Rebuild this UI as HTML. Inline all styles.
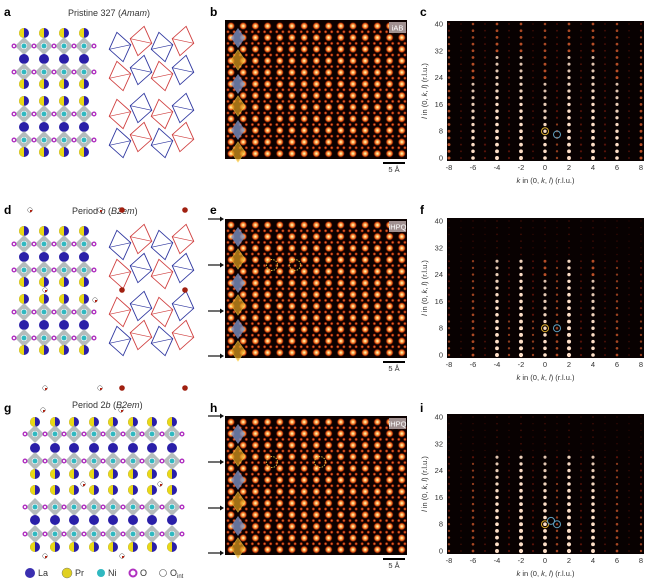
<!DOCTYPE html>
<html><head><meta charset="utf-8"><style>
html,body{margin:0;padding:0;background:#fff;width:654px;height:586px;overflow:hidden}
svg{display:block;font-family:"Liberation Sans",sans-serif}
.pl{font-weight:bold;font-size:12px}
.tt{font-size:9px;fill:#333}
.tk{font-size:7.5px;fill:#333}
</style></head><body>
<svg id="fig" width="654" height="586" viewBox="0 0 654 586">
<defs>
<radialGradient id="spotB"><stop offset="0" stop-color="#fffbe0"/><stop offset="0.3" stop-color="#ffc060"/><stop offset="0.65" stop-color="#e04a10"/><stop offset="1" stop-color="#300" stop-opacity="0"/></radialGradient>
<radialGradient id="spotS"><stop offset="0" stop-color="#f09040"/><stop offset="0.55" stop-color="#b02808"/><stop offset="1" stop-color="#300" stop-opacity="0"/></radialGradient>
</defs>
<g id="labels">
<text class="pl" x="4" y="16">a</text>
<text class="tt" x="68" y="16">Pristine 327 (<tspan font-style="italic">Amam</tspan>)</text>
<text class="pl" x="210" y="16">b</text>
<text class="pl" x="420" y="16">c</text>
<text class="pl" x="4" y="214">d</text>
<text class="tt" x="72" y="214">Period <tspan font-style="italic">b</tspan> (<tspan font-style="italic">B2em</tspan>)</text>
<text class="pl" x="210" y="214">e</text>
<text class="pl" x="420" y="214">f</text>
<text class="pl" x="4" y="412">g</text>
<text class="tt" x="72" y="408">Period 2<tspan font-style="italic">b</tspan> (<tspan font-style="italic">B2em</tspan>)</text>
<text class="pl" x="210" y="412">h</text>
<text class="pl" x="420" y="412">i</text>
</g>
<g id="legend" font-size="9" fill="#333">
<circle cx="30" cy="573" r="5" fill="#3a2fb0"/><text x="38" y="576">La</text>
<circle cx="67" cy="573" r="5" fill="#e0d020" stroke="#776" stroke-width="0.5"/><text x="75" y="576">Pr</text>
<circle cx="101" cy="573" r="4" fill="#30b8c0"/><text x="108" y="576">Ni</text>
<circle cx="133" cy="573" r="3.5" fill="#fff" stroke="#b030c0" stroke-width="2"/><text x="140" y="576">O</text>
<circle cx="163" cy="573" r="3.5" fill="#fff" stroke="#555" stroke-width="0.6"/><text x="170" y="576">O<tspan font-size="6" dy="2">int</tspan></text>
</g>
</svg>
<script>
const NS='http://www.w3.org/2000/svg';
const svg=document.getElementById('fig');
function mk(tag,attrs,parent){const e=document.createElementNS(NS,tag);for(const k in attrs)e.setAttribute(k,attrs[k]);(parent||svg).appendChild(e);return e;}

// ---- diffraction data ----
const kTicks=[-8,-6,-4,-2,0,2,4,6,8];
const lTicks=[0,8,16,24,32,40];
const kCols=[-8,-7,-6,-5,-4,-3,-2,-1,0,1,2,3,4,5,6,7,8];
const intensC=[0.6,0.25,0.8,0.35,0.9,0.35,0.9,0.25,0.8,0.4,0.9,0.35,0.9,0.35,0.8,0.25,0.6];
const intensF=[0.4,0.15,0.55,0.25,0.9,0.4,1.0,0.4,0.8,0.5,1.0,0.35,0.8,0.25,0.5,0.15,0.4];
const intensI=[0.4,0.15,0.5,0.25,0.9,0.35,1.0,0.35,0.9,0.45,1.0,0.35,0.9,0.25,0.5,0.15,0.4];
const lMaxC=40, lMaxF=28, lMaxI=28;

function diffPanel(top,intens,lMax,name,circles){
  const x0=447,x1=644,y0=top-3,y1=top+137;
  const kx=k=>449+(k+8)*(641-449)/16;
  const ly=l=>top+134-l*134/40;
  const g=mk('g',{});
  
  
  mk('rect',{x:x0,y:y0,width:x1-x0,height:y1-y0,fill:'#080101'},g);
  kCols.forEach((k,i)=>{
    for(let l=0;l<=40;l+=2){
      let a=intens[i]*(l>lMax?0.3:1)*(1-l/90);
      const c=mk('circle',{cx:kx(k),cy:ly(l),r:(0.6+a*1.5).toFixed(2),fill:a>0.6?'#ffe0c8':a>0.35?'#e06030':'#902010',opacity:Math.min(1,0.25+a)},g);
      
      
    }
  });
  circles.forEach(cc=>{mk('circle',{cx:kx(cc[0]),cy:ly(cc[1]),r:3.5,fill:'none',stroke:cc[2],'stroke-width':1},g);});
  kTicks.forEach(k=>{const t=mk('text',{x:kx(k),y:y1+9,'text-anchor':'middle',class:'tk'},g);t.textContent=k;
    });
  lTicks.forEach(l=>{const t=mk('text',{x:x0-4,y:ly(l)+2.5,'text-anchor':'end',class:'tk'},g);t.textContent=l;
    });
  const xt=mk('text',{x:(x0+x1)/2,y:y1+22,'text-anchor':'middle',class:'tk','font-size':'8'},g);
  xt.innerHTML='<tspan font-style="italic">k</tspan> in (0, <tspan font-style="italic">k</tspan>, <tspan font-style="italic">l</tspan>) (r.l.u.)';
  
  const yt=mk('text',{x:0,y:0,'text-anchor':'middle',class:'tk','font-size':'8',transform:`translate(${x0-20},${(y0+y1)/2}) rotate(-90)`},g);
  yt.innerHTML='<tspan font-style="italic">l</tspan> in (0, <tspan font-style="italic">k</tspan>, <tspan font-style="italic">l</tspan>) (r.l.u.)';
  
}
diffPanel(24,intensC,lMaxC,'diffraction-panel-c',[[0,8,'#e0b030'],[1,7,'#60a0c0']]);
diffPanel(221,intensF,lMaxF,'diffraction-panel-f',[[0,8,'#e0b030'],[1,8,'#60a0c0']]);
diffPanel(417,intensI,lMaxI,'diffraction-panel-i',[[0,8,'#e0b030'],[1,8,'#60a0c0'],[0.5,9,'#60a0c0']]);

// ---- STEM images ----
function stem(top,name,tag,arrows,rings){
  const x0=225,w=182,h=139;
  const g=mk('g',{});
  
  
  mk('rect',{x:x0,y:top,width:w,height:h,fill:'#0c0100'},g);
  for(let r=0;r<12;r++){
    const y=top+6+r*11.6;
    for(let c=0;c<15;c++) mk('circle',{cx:x0+6+c*12.2,cy:y,r:4.2,fill:'url(#spotB)'},g);
    if(r<11) for(let c=0;c<30;c++) mk('circle',{cx:x0+3+c*6.1,cy:y+5.8,r:2,fill:'url(#spotS)'},g);
  }
  [0,1,2].forEach(b=>{
    const by=top+8+b*46;
    mk('polygon',{points:`${x0+13},${by} ${x0+20},${by+10} ${x0+13},${by+20} ${x0+6},${by+10}`,fill:'#7a90c0',opacity:0.8},g);
    mk('polygon',{points:`${x0+13},${by+22} ${x0+20},${by+32} ${x0+13},${by+42} ${x0+6},${by+32}`,fill:'#e0a020',opacity:0.7,stroke:'#ffd040','stroke-width':0.8},g);
  });
  mk('rect',{x:x0+w-18,y:top+2,width:17,height:11,fill:'#a09090'},g);
  const t=mk('text',{x:x0+w-9.5,y:top+10.5,'text-anchor':'middle','font-size':'7.5',fill:'#fff'},g);t.textContent=tag;
  mk('rect',{x:x0+w-24,y:top+h+3,width:22,height:2,fill:'#000'},g);
  const s=mk('text',{x:x0+w-13,y:top+h+13,'text-anchor':'middle',class:'tk'},g);s.textContent='5 Å';
  
  if(arrows) [0,46,92,137].forEach(d=>{
    mk('line',{x1:208,y1:top+d,x2:220,y2:top+d,stroke:'#111','stroke-width':1.2},g);
    mk('polygon',{points:`220,${top+d-2.5} 224,${top+d} 220,${top+d+2.5}`,fill:'#111'},g);
  });
  rings.forEach(rx=>mk('circle',{cx:rx,cy:top+46,r:5.5,fill:'none',stroke:'#e0c040','stroke-width':0.9,'stroke-dasharray':'1.5 1.2'},g));
}
stem(20,'stem-image-b','iAB',false,[]);
stem(219,'stem-image-e','iHPQ',true,[272,295]);
stem(416,'stem-image-h','iHPQ',true,[272,320]);

// ---- crystal structures ----
function structure(xs,rows,name){
  const g=mk('g',{});
  
  
  const dx=xs.length>1?xs[1]-xs[0]:20;
  rows.forEach(r=>{
    const [y,type]=r;
    xs.forEach((x,i)=>{
      if(type==='ni'){
        mk('polygon',{points:`${x},${y-9} ${x+dx/2-1},${y} ${x},${y+9} ${x-dx/2+1},${y}`,fill:'#a8b0b0',opacity:0.85},g);
        mk('circle',{cx:x,cy:y,r:2.8,fill:'#30b8c0',stroke:'#fff','stroke-width':0.6},g);
        mk('circle',{cx:x-dx/2,cy:y,r:1.8,fill:'#fff',stroke:'#b030c0','stroke-width':1.4},g);
        if(i===xs.length-1) mk('circle',{cx:x+dx/2,cy:y,r:1.8,fill:'#fff',stroke:'#b030c0','stroke-width':1.4},g);
      } else {
        mk('circle',{cx:x,cy:y,r:5,fill:'#2a1fa8'},g);
        if(type==='pr') mk('path',{d:`M${x},${y-5} A5,5 0 0 0 ${x},${y+5} Z`,fill:'#e8d818'},g);
      }
    });
  });
}
const ab=[24,44,64,84];
const rowsA=[[33,'pr'],[46,'ni'],[59,'la'],[72,'ni'],[84,'pr'],[101,'pr'],[114,'ni'],[127,'la'],[140,'ni'],[152,'pr']];
structure(ab,rowsA,'structure-a');
structure(ab,rowsA.map(r=>[r[0]+198,r[1]]),'structure-d');
const gx=[35,55,74,94,113,133,152,172];
structure(gx,[[422,'pr'],[434,'ni'],[448,'la'],[461,'ni'],[474,'pr'],[490,'pr'],[507,'ni'],[520,'la'],[534,'ni'],[547,'pr']],'structure-g');
[[43,410],[121,410],[83,484],[160,484],[45,556],[122,556],[30,210],[100,210],[45,290],[95,300],[45,388],[100,388]].forEach(p=>{
  const c=mk('circle',{cx:p[0],cy:p[1],r:2.3,fill:'#fff',stroke:'#555','stroke-width':0.5});
  
  mk('path',{d:`M${p[0]},${p[1]} L${p[0]+2.3},${p[1]} A2.3,2.3 0 0 1 ${p[0]},${p[1]+2.3} Z`,fill:'#b02010'});
});

// ---- wireframes ----
function wire(top,name){
  const g=mk('g',{});
  
  
  [0,67].forEach(b=>{
    for(let r=0;r<2;r++){
      for(let i=0;i<4;i++){
        const cx=120+i*21, cy=top+b+16+r*29+(i%2?-3:3);
        const col=((i+r+(b?1:0))%2)?'#d04040':'#3038a0';
        const rot=(i%2?12:-12);
        mk('polygon',{points:`${cx},${cy-15} ${cx+11},${cy} ${cx},${cy+15} ${cx-11},${cy}`,fill:'none',stroke:col,'stroke-width':0.9,transform:`rotate(${rot} ${cx} ${cy})`},g);
        mk('line',{x1:cx-11,y1:cy,x2:cx+11,y2:cy,stroke:col,'stroke-width':0.7,transform:`rotate(${rot} ${cx} ${cy})`},g);
      }
    }
  });
}
wire(28,'octahedra-wireframe-a');
wire(226,'octahedra-wireframe-d');
[[122,210],[185,210],[122,290],[185,290],[122,388],[185,388]].forEach(p=>{
  const c=mk('circle',{cx:p[0],cy:p[1],r:2.8,fill:'#a02010'});
  
});
</script>
</body></html>
